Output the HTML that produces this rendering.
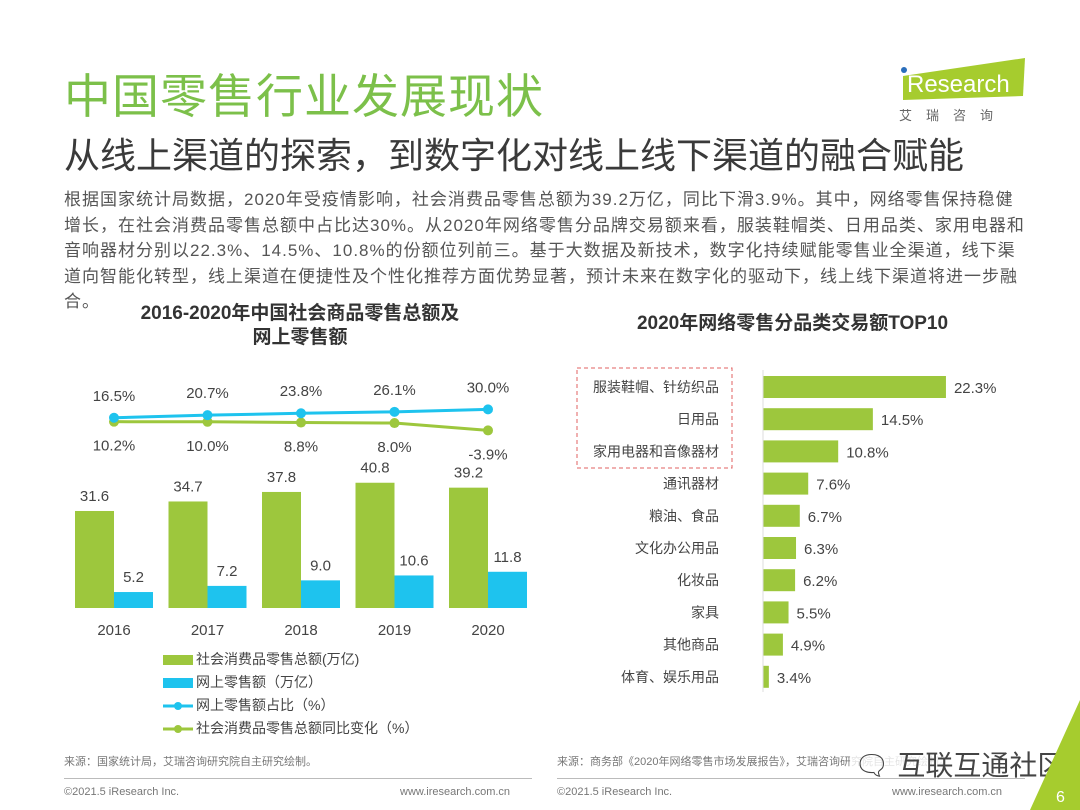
<!DOCTYPE html>
<html><head><meta charset="utf-8">
<style>
body{margin:0;width:1080px;height:810px;background:#fff;overflow:hidden;position:relative;font-family:"Liberation Sans","Noto Sans CJK SC",sans-serif;}
.abs{position:absolute;}
</style></head>
<body>
<div class="abs" style="left:64px;top:58px;font-size:47px;color:#7cc04a;letter-spacing:1px;">中国零售行业发展现状</div>
<div class="abs" style="left:893px;top:58px;width:135px;height:68px;">
 <svg width="135" height="68"><polygon points="10,18 132,0 130,38 10,42" fill="#a6cc2e"/><circle cx="11" cy="12" r="3" fill="#2a6ebb"/><text x="14" y="34" font-size="24" fill="#fff" font-family="Liberation Sans">Research</text><text x="6" y="62" font-size="13" fill="#666" font-family="Noto Sans CJK SC" letter-spacing="14">艾瑞咨询</text></svg>
</div>
<div class="abs" style="left:64px;top:127px;font-size:36px;color:#3a3a3a;white-space:nowrap;">从线上渠道的探索，到数字化对线上线下渠道的融合赋能</div>
<div class="abs" style="left:64px;top:187px;width:1000px;font-size:17px;line-height:25.6px;color:#555;white-space:nowrap;letter-spacing:1px;">根据国家统计局数据，2020年受疫情影响，社会消费品零售总额为39.2万亿，同比下滑3.9%。其中，网络零售保持稳健<br>增长，在社会消费品零售总额中占比达30%。从2020年网络零售分品牌交易额来看，服装鞋帽类、日用品类、家用电器和<br>音响器材分别以22.3%、14.5%、10.8%的份额位列前三。基于大数据及新技术，数字化持续赋能零售业全渠道，线下渠<br>道向智能化转型，线上渠道在便捷性及个性化推荐方面优势显著，预计未来在数字化的驱动下，线上线下渠道将进一步融<br>合。</div>
<div class="abs" style="left:90px;top:302px;width:420px;text-align:center;font-size:19px;font-weight:bold;color:#333;line-height:24px;">2016-2020年中国社会商品零售总额及<br>网上零售额</div>
<div class="abs" style="left:580px;top:308px;width:425px;text-align:center;font-size:19px;font-weight:bold;color:#333;">2020年网络零售分品类交易额TOP10</div>

<svg class="abs" style="left:0;top:0" width="1080" height="810" id="charts">
 <g id="left"></g><g id="right"></g>
 <rect x="577" y="368" width="155" height="100" fill="none" stroke="#e06060" stroke-dasharray="4,3"/>
 <line x1="763" y1="370" x2="763" y2="692" stroke="#ddd"/>
</svg>

<div class="abs" style="left:163px;top:648px;font-size:14px;color:#444;line-height:23px;">
 <div><span style="display:inline-block;width:30px;height:10px;background:#9dc73d;vertical-align:middle;margin-right:3px"></span>社会消费品零售总额(万亿)</div>
 <div><span style="display:inline-block;width:30px;height:10px;background:#1ec3ee;vertical-align:middle;margin-right:3px"></span>网上零售额（万亿）</div>
 <div><svg width="30" height="12" style="vertical-align:middle;margin-right:3px"><line x1="0" y1="6" x2="30" y2="6" stroke="#1ec3ee" stroke-width="3"/><circle cx="15" cy="6" r="4" fill="#1ec3ee"/></svg>网上零售额占比（%）</div>
 <div><svg width="30" height="12" style="vertical-align:middle;margin-right:3px"><line x1="0" y1="6" x2="30" y2="6" stroke="#9dc73d" stroke-width="3"/><circle cx="15" cy="6" r="4" fill="#9dc73d"/></svg>社会消费品零售总额同比变化（%）</div>
</div>

<div class="abs" style="left:64px;top:753px;font-size:11px;color:#777;">来源：国家统计局，艾瑞咨询研究院自主研究绘制。</div>
<div class="abs" style="left:557px;top:753px;font-size:11px;color:#777;white-space:nowrap;">来源：商务部《2020年网络零售市场发展报告》，艾瑞咨询研究院自主研究绘制。</div>
<div class="abs" style="left:850px;top:744px;font-size:28px;color:#444;background:rgba(255,255,255,0.8);padding:0 4px;white-space:nowrap;">🗨 互联互通社区</div>
<div class="abs" style="left:64px;top:778px;width:468px;height:1px;background:#bbb;"></div>
<div class="abs" style="left:557px;top:778px;width:468px;height:1px;background:#bbb;"></div>
<div class="abs" style="left:64px;top:786px;font-size:11px;color:#777;">©2021.5 iResearch Inc.</div>
<div class="abs" style="left:400px;top:786px;font-size:11px;color:#777;">www.iresearch.com.cn</div>
<div class="abs" style="left:557px;top:786px;font-size:11px;color:#777;">©2021.5 iResearch Inc.</div>
<div class="abs" style="left:892px;top:786px;font-size:11px;color:#777;">www.iresearch.com.cn</div>
<svg class="abs" style="left:1030px;top:700px" width="50" height="110"><polygon points="50,0 50,110 0,110" fill="#a6cc2e"/><text x="26" y="102" font-size="16" fill="#fff" font-family="Liberation Sans">6</text></svg>

<script>
const years=['2016','2017','2018','2019','2020'];
const totalRetail=[31.6,34.7,37.8,40.8,39.2];
const onlineRetail=[5.2,7.2,9.0,10.6,11.8];
const onlineShare=[16.5,20.7,23.8,26.1,30.0];
const yoyChange=[10.2,10.0,8.8,8.0,-3.9];
const categories=['服装鞋帽、针纺织品','日用品','家用电器和音像器材','通讯器材','粮油、食品','文化办公用品','化妆品','家具','其他商品','体育、娱乐用品'];
const shares=[22.3,14.5,10.8,7.6,6.7,6.3,6.2,5.5,4.9,3.4];

const NS='http://www.w3.org/2000/svg';
function mk(tag,attrs,parent,txt){const e=document.createElementNS(NS,tag);for(const k in attrs)e.setAttribute(k,attrs[k]);if(txt!==undefined)e.textContent=txt;parent.appendChild(e);return e;}
const L=document.getElementById('left'),R=document.getElementById('right');
const xC=i=>114+i*93.5, yBar=v=>608-v*3.07, yLine=v=>428-v*0.62;
const F='Liberation Sans';
years.forEach((y,i)=>{
 let b=mk('rect',{x:xC(i)-39,y:yBar(totalRetail[i]),width:39,height:608-yBar(totalRetail[i]),fill:'#9dc73d'},L);
 
 
 let t=mk('text',{x:xC(i)-19.5,y:yBar(totalRetail[i])-10,'text-anchor':'middle','font-size':15,fill:'#444','font-family':F},L,totalRetail[i].toFixed(1));
 
 
 let c=mk('rect',{x:xC(i),y:yBar(onlineRetail[i]),width:39,height:608-yBar(onlineRetail[i]),fill:'#1ec3ee'},L);
 
 
 let u=mk('text',{x:xC(i)+19.5,y:yBar(onlineRetail[i])-10,'text-anchor':'middle','font-size':15,fill:'#444','font-family':F},L,onlineRetail[i].toFixed(1));
 
 
 let xl=mk('text',{x:xC(i),y:635,'text-anchor':'middle','font-size':15,fill:'#444','font-family':F},L,y);
 
 
});
function line(vals,color,name,labOff){
 const p=mk('polyline',{points:vals.map((v,i)=>xC(i)+','+yLine(v)).join(' '),fill:'none',stroke:color,'stroke-width':3},L);
 
 
 vals.forEach((v,i)=>{
  const c=mk('circle',{cx:xC(i),cy:yLine(v),r:5,fill:color},L);
  
  
  const t=mk('text',{x:xC(i),y:yLine(v)+labOff,'text-anchor':'middle','font-size':15,fill:'#444','font-family':F},L,v.toFixed(1)+'%');
  
  
 });
}
line(yoyChange,'#9dc73d','yoy-change',29);
line(onlineShare,'#1ec3ee','online-share',-17);
const xS=v=>737+v*9.37, yRow=i=>387+i*32.2;
categories.forEach((c,i)=>{
 const b=mk('rect',{x:763,y:yRow(i)-11,width:xS(shares[i])-763,height:22,fill:'#9dc73d'},R);
 
 
 const t=mk('text',{x:xS(shares[i])+8,y:yRow(i)+6,'font-size':15,fill:'#444','font-family':F},R,shares[i]+'%');
 
 
 const l=mk('text',{x:719,y:yRow(i)+5,'text-anchor':'end','font-size':14,fill:'#444','font-family':'Liberation Sans, Noto Sans CJK SC'},R,c);
 
 
});
</script>
</body></html>
